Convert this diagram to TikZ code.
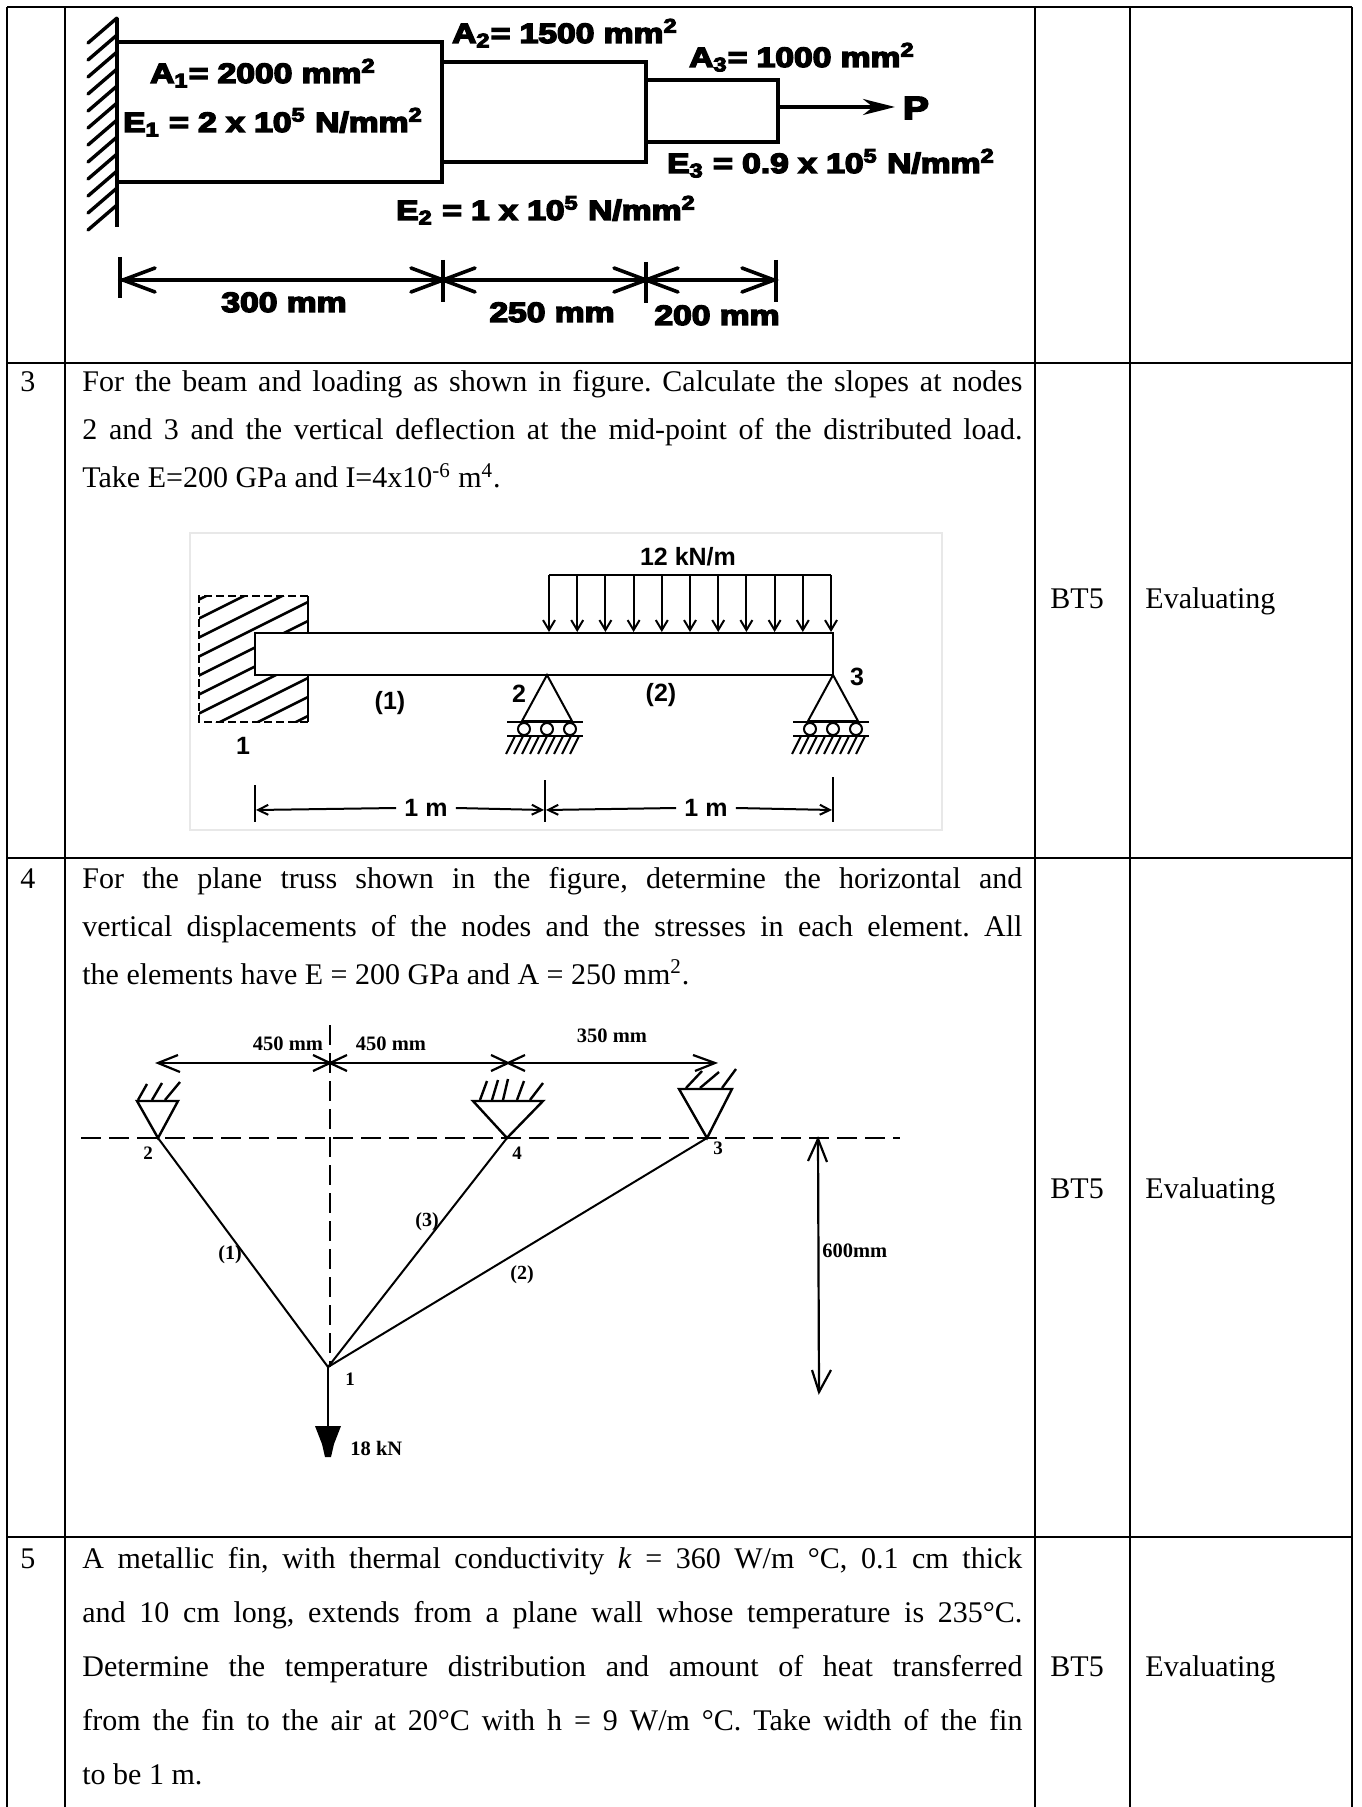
\documentclass[tikz,border=0pt]{standalone}
\usepackage{fontspec}
\setmainfont{Liberation Serif}
\newfontfamily\arialf{Liberation Sans}
\newfontfamily\arialblk{Liberation Sans}[BoldFeatures={FakeBold=5}]
\usetikzlibrary{arrows.meta}
\newcommand\figA[1]{\scalebox{1.2}[1]{\arialblk\bfseries\fontsize{14}{16}\selectfont #1}}
\newcommand\bodyf{\fontsize{15}{18}\selectfont}
\newcommand\jline[1]{\makebox[470pt][s]{#1}}
\frenchspacing
\begin{document}
\begin{tikzpicture}[x=0.5pt,y=-0.5pt,
  tbl/.style={line width=1.25pt},
  bar/.style={line width=1.8pt},
  txt/.style={anchor=base west, inner sep=0pt, font=\bodyf},
  fA/.style={anchor=base, inner sep=0pt},
  bl/.style={anchor=center, inner sep=0pt, font=\arialf\bfseries\fontsize{12.5}{14}\selectfont},
  tl/.style={anchor=base, inner sep=0pt, font=\bfseries\fontsize{10.25}{12}\selectfont},
  tn/.style={anchor=center, inner sep=0pt, font=\bfseries\fontsize{9.5}{11}\selectfont},
  thinl/.style={line width=1pt},
  dsh/.style={line width=1pt, dash pattern=on 10pt off 4pt},
  rollsup/.pic={
    \draw[line width=1pt] (0,0) -- (-25,46) -- (25,46) -- cycle;
    \draw[line width=1.1pt] (-40,47) -- (36,47);
    \foreach \cx in {-23,0,23} \draw[line width=1pt] (\cx,54) circle (6);
    \draw[line width=1.2pt] (-40,61) -- (36,61);
    \foreach \hx in {-32,-24,...,36} \draw[line width=1pt] (\hx,61) -- (\hx-9,79);
  }
]
\useasboundingbox (0,0) rectangle (1361,1807);
\fill[white] (0,0) rectangle (1361,1807);

% ---------------- table ----------------
\draw[tbl] (7,7) -- (1352,7);
\foreach \yy in {363,858,1537} \draw[tbl] (7,\yy) -- (1352,\yy);
\foreach \xx in {7,65,1035,1130,1352} \draw[tbl] (\xx,7) -- (\xx,1807);

% ---------------- figure 1: stepped bar ----------------
\draw[line width=2.1pt] (117,18) -- (117,227);
\foreach \k in {0,...,11} \draw[line width=1.7pt, line cap=round] (117,18+\k*17) -- (88,43+\k*17);
\draw[bar] (117,42) rectangle (442,182);
\draw[bar] (442,62) rectangle (646,162);
\draw[bar] (646,80) rectangle (778,142);
\coordinate (pstart) at (778,107);
\node[fA] (P) at (916,119) {\scalebox{1.15}{\figA{P}}};
\draw[bar, -{Stealth[length=16pt, width=8pt, inset=5pt]}] (pstart) -- (895,107);

\node[fA] (a1) at (263,83) {\figA{A\textsubscript{1}= 2000 mm\textsuperscript{2}}};
\node[fA] (e1) at (273,132) {\figA{E\textsubscript{1} = 2 x 10\textsuperscript{5} N/mm\textsuperscript{2}}};
\node[fA] (a2) at (565,43) {\figA{A\textsubscript{2}= 1500 mm\textsuperscript{2}}};
\node[fA] (a3) at (802,67) {\figA{A\textsubscript{3}= 1000 mm\textsuperscript{2}}};
\node[fA] (e3) at (831,173) {\figA{E\textsubscript{3} = 0.9 x 10\textsuperscript{5} N/mm\textsuperscript{2}}};
\node[fA] (e2) at (546,220) {\figA{E\textsubscript{2} = 1 x 10\textsuperscript{5} N/mm\textsuperscript{2}}};

% dimension line
\draw[line width=1.6pt] (120,280) -- (776,280);
\draw[line width=2.2pt] (120,257) -- (120,298);
\draw[line width=2.2pt] (443,260) -- (443,302);
\draw[line width=2.2pt] (646,262) -- (646,303);
\draw[line width=2.2pt] (776,260) -- (776,302);
\foreach \tx/\d in {123/1, 443/-1, 443/1, 646/-1, 646/1, 774/-1}
  \draw[line width=1.8pt, line cap=round] (\tx+\d*32,268) -- (\tx,280) -- (\tx+\d*32,292);
\node[fA] (d300) at (284,312) {\figA{300 mm}};
\node[fA] (d250) at (552,322) {\figA{250 mm}};
\node[fA] (d200) at (717,325) {\figA{200 mm}};

% ---------------- row 3 text ----------------
\node[txt] (n3) at (20,392) {3};
\node[txt] (r3a) at (82,392) {\jline{For the beam and loading as shown in figure. Calculate the slopes at nodes}};
\node[txt] (r3b) at (82,440) {\jline{2 and 3 and the vertical deflection at the mid-point of the distributed load.}};
\node[txt] (r3c) at (82,488) {Take E=200 GPa and I=4x10\textsuperscript{-6} m\textsuperscript{4}.};
\node[txt] (bt3) at (1050,608) {BT5};
\node[txt] (ev3) at (1145,608) {Evaluating};

% ---------------- beam figure ----------------
\draw[black!9, line width=0.8pt] (190,533) rectangle (942,830);
\begin{scope}
  \clip (199,596) rectangle (308,722);
  \foreach \k in {0,...,13} \draw[line width=1.3pt] (190,604+\k*19) -- (320,604+\k*19-65);
\end{scope}
\draw[line width=1.4pt, dash pattern=on 4pt off 2pt] (308,596) -- (199,596) -- (199,722) -- (308,722);
\draw[line width=1.4pt] (308,596) -- (308,634) (308,676) -- (308,722);
\draw[line width=1.2pt, fill=white] (255,633) rectangle (833,675);
% distributed load
\draw[thinl] (549,575) -- (831,575);
\foreach \i in {0,...,10}
  \draw[thinl, -{Straight Barb[length=5pt, width=6pt]}] (549+\i*28.2,575) -- (549+\i*28.2,632);
\node[bl] (q) at (688,557) {12 kN/m};
% supports
\pic at (547,675) {rollsup};
\pic at (833,675) {rollsup};
\node[bl] (b2) at (519,694) {2};
\node[bl] (b3) at (857,677) {3};
\node[bl] (b1) at (243,746) {1};
\node[bl] (e1l) at (390,703) {(1)};
\node[bl] (e2l) at (661,695) {(2)};
% dimension
\draw[thinl] (255,785) -- (255,822);
\draw[thinl] (545,780) -- (545,822);
\draw[thinl] (833,777) -- (833,822);
\node[bl] (m1) at (426,808) {1 m};
\node[bl] (m2) at (706,808) {1 m};
\draw[thinl, -{Straight Barb[length=5pt, width=5pt]}] (m1.west) ++(-8,0) -- (256,810);
\draw[thinl, -{Straight Barb[length=5pt, width=5pt]}] (m1.east) ++(8,0) -- (544,810);
\draw[thinl, -{Straight Barb[length=5pt, width=5pt]}] (m2.west) ++(-8,0) -- (546,810);
\draw[thinl, -{Straight Barb[length=5pt, width=5pt]}] (m2.east) ++(8,0) -- (832,810);

% ---------------- row 4 text ----------------
\node[txt] (n4) at (20,888) {4};
\node[txt] (r4a) at (82,888) {\jline{For the plane truss shown in the figure, determine the horizontal and}};
\node[txt] (r4b) at (82,936) {\jline{vertical displacements of the nodes and the stresses in each element. All}};
\node[txt] (r4c) at (82,984) {the elements have E = 200 GPa and A = 250 mm\textsuperscript{2}.};
\node[txt] (bt4) at (1050,1198) {BT5};
\node[txt] (ev4) at (1145,1198) {Evaluating};

% ---------------- truss figure ----------------
\coordinate (t2) at (158,1138);
\coordinate (t4) at (507,1138);
\coordinate (t3) at (707,1138);
\coordinate (t1) at (328,1367);
\draw[dsh] (81,1138) -- (900,1138);
\draw[dsh] (330,1025) -- (330,1367);
\draw[thinl] (t2) -- (t1);
\draw[thinl] (t4) -- (t1);
\draw[thinl] (t3) -- (t1);
% supports
\draw[line width=1.2pt] (t2) -- (137,1101) -- (178,1101) -- cycle;
\draw[line width=1.2pt] (138,1100) -- (147,1084) (152,1100) -- (162,1083) (165,1100) -- (180,1082);
\draw[line width=1.2pt] (t4) -- (473,1101) -- (543,1101) -- cycle;
\draw[line width=1.2pt] (480,1100) -- (487,1081) (492,1100) -- (498,1080) (503,1100) -- (508,1079) (517,1100) -- (524,1081) (530,1100) -- (543,1083);
\draw[line width=1.2pt] (t3) -- (679,1089) -- (732,1089) -- cycle;
\draw[line width=1.2pt] (686,1088) -- (702,1071) (700,1088) -- (719,1072) (722,1088) -- (736,1069);
% load
\coordinate (tl1) at (328,1427);
\draw[line width=1.2pt] (t1) -- (tl1);
\fill (315,1426) -- (341,1426) -- (334,1444) -- (331,1457) -- (325,1457) -- (322,1444) -- cycle;
\node[tl, anchor=base west] (f18) at (350,1455) {18 kN};
% top dimension
\draw[line width=1.1pt] (158,1063) -- (715,1063);
\draw[line width=1.1pt] (178,1055) -- (158,1063) -- (180,1072);
\draw[line width=1.1pt] (693,1055) -- (715,1063) -- (695,1071);
\draw[line width=1.1pt] (313,1055) -- (347,1071) (313,1071) -- (347,1055);
\draw[line width=1.1pt] (491,1055) -- (525,1071) (491,1071) -- (525,1055);
\node[tl] (d450a) at (288,1050) {450 mm};
\node[tl] (d450b) at (391,1050) {450 mm};
\node[tl] (d350) at (612,1042) {350 mm};
% right dimension
\draw[line width=1.1pt] (818,1139) -- (819,1392);
\draw[line width=1.1pt] (808,1161) -- (818,1139) -- (827,1162);
\draw[line width=1.1pt] (812,1370) -- (819,1392) -- (831,1370);
\node[tl, anchor=base west] (d600) at (822,1257) {600mm};
% labels
\node[tn] (l2) at (148,1153) {2};
\node[tn] (l4) at (517,1153) {4};
\node[tn] (l3) at (718,1148) {3};
\node[tn] (l1) at (350,1379) {1};
\node[tn, font=\bfseries\fontsize{10}{12}\selectfont] (m1t) at (230,1255) {(1)};
\node[tn, font=\bfseries\fontsize{10}{12}\selectfont] (m2t) at (522,1275) {(2)};
\node[tn, font=\bfseries\fontsize{10}{12}\selectfont] (m3t) at (427,1222) {(3)};

% ---------------- row 5 text ----------------
\node[txt] (n5) at (20,1568) {5};
\node[txt] (r5a) at (82,1568) {\jline{A metallic fin, with thermal conductivity \textit{k} = 360 W/m °C, 0.1 cm thick}};
\node[txt] (r5b) at (82,1622) {\jline{and 10 cm long, extends from a plane wall whose temperature is 235°C.}};
\node[txt] (r5c) at (82,1676) {\jline{Determine the temperature distribution and amount of heat transferred}};
\node[txt] (r5d) at (82,1730) {\jline{from the fin to the air at 20°C with h = 9 W/m °C. Take width of the fin}};
\node[txt] (r5e) at (82,1784) {to be 1 m.};
\node[txt] (bt5) at (1050,1676) {BT5};
\node[txt] (ev5) at (1145,1676) {Evaluating};
\end{tikzpicture}
\end{document}
